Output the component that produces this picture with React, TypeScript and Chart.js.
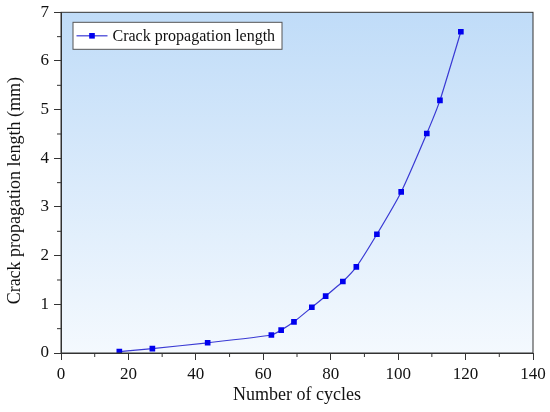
import { useEffect, useRef } from 'react';
import { Chart, registerables } from 'chart.js';

Chart.register(...registerables);

// values
const cycles = [17.3, 27.1, 43.5, 62.4, 65.3, 69.1, 74.4, 78.5, 83.6, 87.6, 93.7, 100.9, 108.5, 112.4, 118.6];
const crackLength = [0.03, 0.09, 0.21, 0.37, 0.47, 0.64, 0.94, 1.17, 1.47, 1.77, 2.44, 3.31, 4.51, 5.19, 6.6];
const xTicks = [0, 20, 40, 60, 80, 100, 120, 140];
const yTicks = [0, 1, 2, 3, 4, 5, 6, 7];
const xMinor = [10, 30, 50, 70, 90, 110, 130];
const yMinor = [0.5, 1.5, 2.5, 3.5, 4.5, 5.5, 6.5];
const yTitle = 'Crack propagation length (mm)';

const FONT = "'Liberation Serif', 'Times New Roman', serif";
const INK = '#111';

const framePlugin = {
  id: 'frame',
  beforeDraw(chart: Chart) {
    const { ctx, chartArea: a } = chart;
    const g = ctx.createLinearGradient(0, a.top, 0, a.bottom);
    g.addColorStop(0, '#c0dcf8');
    g.addColorStop(1, '#f4f9fe');
    ctx.save();
    ctx.fillStyle = g;
    ctx.fillRect(a.left, a.top, a.width, a.height);
    ctx.restore();
  },
  afterDraw(chart: Chart) {
    const { ctx, chartArea: a, scales } = chart;
    ctx.save();
    ctx.strokeStyle = '#333';
    ctx.lineWidth = 1;
    ctx.strokeRect(a.left, a.top, a.width, a.height);

    // minor ticks
    ctx.beginPath();
    xMinor.forEach(v => {
      const px = scales.x.getPixelForValue(v);
      ctx.moveTo(px, a.bottom);
      ctx.lineTo(px, a.bottom + 4);
    });
    yMinor.forEach(v => {
      const py = scales.y.getPixelForValue(v);
      ctx.moveTo(a.left, py);
      ctx.lineTo(a.left - 4, py);
    });
    ctx.stroke();

    // y title, sitting a little below the middle of the axis as in the original
    ctx.save();
    ctx.translate(15, (a.top + a.bottom) / 2 + 8);
    ctx.rotate(-Math.PI / 2);
    ctx.fillStyle = INK;
    ctx.font = `18px ${FONT}`;
    ctx.textAlign = 'center';
    ctx.textBaseline = 'middle';
    ctx.fillText(yTitle, 0, 0);
    ctx.restore();

    // boxed legend in the top left corner
    const ds: any = chart.data.datasets[0];
    const bx = a.left + 12;
    const by = a.top + 10;
    const bw = 209;
    const bh = 27;
    const cy = by + bh / 2;
    ctx.fillStyle = '#fff';
    ctx.fillRect(bx, by, bw, bh);
    ctx.strokeStyle = '#555';
    ctx.strokeRect(bx, by, bw, bh);
    ctx.strokeStyle = ds.borderColor;
    ctx.lineWidth = ds.borderWidth;
    ctx.beginPath();
    ctx.moveTo(bx + 3.5, cy);
    ctx.lineTo(bx + 34.5, cy);
    ctx.stroke();
    ctx.fillStyle = ds.pointBackgroundColor;
    ctx.fillRect(bx + 19 - 2.8, cy - 2.8, 5.6, 5.6);
    ctx.fillStyle = INK;
    ctx.font = `16px ${FONT}`;
    ctx.textBaseline = 'middle';
    ctx.fillText(ds.label, bx + 39.5, cy + 1);
    ctx.restore();
  },
};

function CrackChart() {
  const chartRef = useRef<HTMLCanvasElement>(null);
  const chartInstance = useRef<Chart | null>(null);

  useEffect(() => {
    if (!chartRef.current) return;
    if (chartInstance.current) chartInstance.current.destroy();

    chartInstance.current = new Chart(chartRef.current, {
      type: 'line',
      data: {
        datasets: [{
          label: 'Crack propagation length',
          data: cycles.map((c, i) => ({ x: c, y: crackLength[i] })),
          borderColor: '#3a3ad4',
          borderWidth: 1.2,
          pointStyle: 'rect',
          pointRadius: 4,
          pointBorderWidth: 0,
          pointBackgroundColor: '#0000ee',
          pointBorderColor: '#0000ee',
          tension: 0.15,
          fill: false,
        }],
      },
      options: {
        animation: false,
        responsive: true,
        maintainAspectRatio: false,
        layout: { padding: { top: 0, right: 17, left: 0, bottom: 0 } },
        plugins: {
          legend: { display: false },
          tooltip: { enabled: false },
        },
        scales: {
          x: {
            type: 'linear',
            min: 0,
            max: 140,
            afterBuildTicks: (s: any) => { s.ticks = xTicks.map(v => ({ value: v })); },
            afterFit: (s: any) => { s.height = 59; },
            grid: { drawOnChartArea: false, tickLength: 7, tickColor: '#333' },
            border: { color: '#333' },
            ticks: { color: INK, font: { family: FONT, size: 17 }, padding: 4, maxRotation: 0 },
            title: {
              display: true,
              text: 'Number of cycles',
              color: INK,
              font: { family: FONT, size: 18 },
              padding: { top: 0, bottom: 6 },
            },
          },
          y: {
            type: 'linear',
            min: 0,
            max: 7,
            afterBuildTicks: (s: any) => { s.ticks = yTicks.map(v => ({ value: v })); },
            afterFit: (s: any) => { s.width = 61; },
            grid: { drawOnChartArea: false, tickLength: 7, tickColor: '#333' },
            border: { color: '#333' },
            // the smaller line height keeps the label overhang from pushing the plot down
            ticks: { color: INK, font: { family: FONT, size: 17, lineHeight: 0.86 }, padding: 5 },
          },
        },
      },
      plugins: [framePlugin],
    } as any);

    return () => {
      if (chartInstance.current) {
        chartInstance.current.destroy();
        chartInstance.current = null;
      }
    };
  }, []);

  return <canvas ref={chartRef} />;
}

export default function App() {
  return (
    <div style={{ position: 'absolute', left: 0, top: 0, width: 550, height: 412, background: '#fff' }}>
      <CrackChart />
    </div>
  );
}
